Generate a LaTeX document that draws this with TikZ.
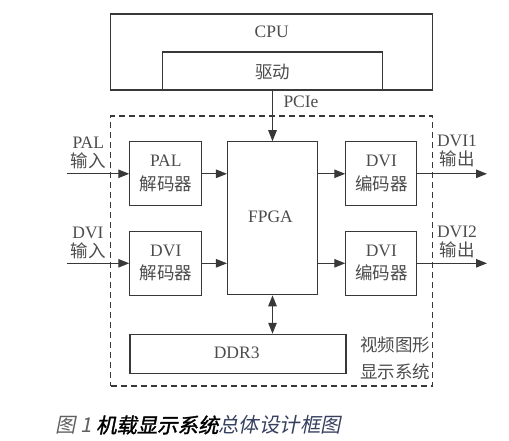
\documentclass[tikz,border=0pt]{standalone}
\usepackage{fontspec}
\setmainfont{Liberation Serif}
\newfontfamily\cjk{Noto Sans CJK SC}
\usetikzlibrary{arrows.meta}
\definecolor{linec}{gray}{0.22}
\definecolor{txtc}{gray}{0.30}
\definecolor{capblue}{RGB}{55,65,95}
\tikzset{
  blk/.style={draw=linec, line width=1.1pt, text=txtc, inner sep=0pt, font=\fontsize{17.5}{22}\selectfont, align=center},
  lbl/.style={text=txtc, inner sep=0pt, font=\fontsize{17.5}{20}\selectfont, align=center},
  arr/.style={draw=linec, line width=1.1pt, -{Triangle[length=11pt,width=8.5pt]}},
  darr/.style={draw=linec, line width=1.1pt, {Triangle[length=11pt,width=8.5pt]}-{Triangle[length=11pt,width=8.5pt]}},
}
\begin{document}
\begin{tikzpicture}[x=1pt,y=-1pt]
\useasboundingbox (0,0) rectangle (509,441);
% CPU
\node[blk, minimum width=322pt, minimum height=76pt] (cpu) at (271.7,52) {};
\node[lbl] (cputxt) at (271.7,32) {CPU};
\node[blk, minimum width=220pt, minimum height=38pt] (drv) at (272.5,71) {};
\node[lbl] (drvtxt) at (272.5,72) {\cjk 驱动};
% dashed system box
\node[draw=linec, line width=1.1pt, dash pattern=on 6pt off 4pt, minimum width=322pt, minimum height=270pt, inner sep=0pt] (sys) at (271.8,251) {};
% blocks
\node[blk, minimum width=72pt, minimum height=64pt] (paldec) at (165.8,173.8) {};
\node[lbl] (paldec1) at (165.8,161) {PAL};
\node[lbl] (paldec2) at (165.8,183.5) {\cjk 解码器};
\node[blk, minimum width=72pt, minimum height=64pt] (dvidec) at (165.8,263.3) {};
\node[lbl] (dvidec1) at (165.8,251) {DVI};
\node[lbl] (dvidec2) at (165.8,273) {\cjk 解码器};
\node[blk, minimum width=90pt, minimum height=153pt] (fpga) at (272.5,218.3) {};
\node[lbl] (fpgatxt) at (270.5,216.7) {FPGA};
\node[blk, minimum width=71pt, minimum height=64pt] (enc1) at (381.3,173.8) {};
\node[lbl] (enc1a) at (381.3,161) {DVI};
\node[lbl] (enc1b) at (381.3,183.5) {\cjk 编码器};
\node[blk, minimum width=71pt, minimum height=64pt] (enc2) at (381.3,263.3) {};
\node[lbl] (enc2a) at (381.3,251) {DVI};
\node[lbl] (enc2b) at (381.3,273) {\cjk 编码器};
\node[blk, minimum width=216pt, minimum height=39pt] (ddr) at (238,353.8) {};
\node[lbl] (ddrtxt) at (236.7,353) {DDR3};
% labels
\node[lbl] (palin) at (88.3,143) {PAL};
\node[lbl] (palin2) at (88,160.5) {\cjk 输入};
\node[lbl] (dviin) at (88,233) {DVI};
\node[lbl] (dviin2) at (88,250.5) {\cjk 输入};
\node[lbl] (o1) at (457,140.5) {DVI1};
\node[lbl] (o1b) at (457,158.5) {\cjk 输出};
\node[lbl] (o2) at (457,232) {DVI2};
\node[lbl] (o2b) at (457,250) {\cjk 输出};
\node[lbl] (pcie) at (301,102) {PCIe};
\node[lbl] (vs1) at (395,345) {\cjk 视频图形};
\node[lbl] (vs2) at (395,371.5) {\cjk 显示系统};
% free ends
\coordinate (in1) at (66.7,173.8);
\coordinate (in2) at (66.7,263.3);
\coordinate (out1) at (487,173.8);
\coordinate (out2) at (487,263.3);
% connectors
\draw[arr] (in1) -- (paldec.west);
\draw[arr] (in2) -- (dvidec.west);
\draw[arr] (paldec.east) -- (paldec.east -| fpga.west);
\draw[arr] (dvidec.east) -- (dvidec.east -| fpga.west);
\draw[arr] (enc1.west -| fpga.east) -- (enc1.west);
\draw[arr] (enc2.west -| fpga.east) -- (enc2.west);
\draw[arr] (enc1.east) -- (out1);
\draw[arr] (enc2.east) -- (out2);
\draw[arr] (fpga.north |- drv.south) -- (fpga.north);
\draw[darr] (fpga.south) -- (fpga.south |- ddr.north);
% caption
\node[anchor=west, inner sep=0pt, font=\fontsize{20.4}{23}\selectfont] (cap) at (55,425)
  {\cjk\addfontfeature{FakeSlant=0.2}{\color{gray!75!black}图 1 }{\color{black}\addfontfeature{FakeBold=1.5}机载显示系统}{\color{capblue}总体设计框图}};
\end{tikzpicture}
\end{document}
